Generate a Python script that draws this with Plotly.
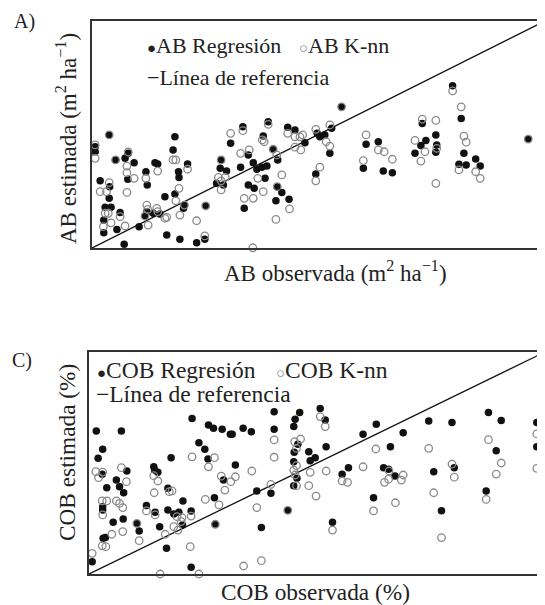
import plotly.graph_objects as go

# ---------------- Data (arbitrary 0-100 units, no tick labels in source) -------------
# Panel A: basal area (AB)
ab_reg_obs = [3.8,18.3,30.6,0.7,0.7,17.9,8.0,7.3,5.2,9.3,13.9,14.5,21.1,11.9,12.2,19.1,19.2,7.9,1.8,3.9,
              3.8,18.3,16.1,20.4,20.2,25.1,2.9,4.2,12.1,11.7,13.5,15.0,6.2,2.6,10.4,2.6,5.5,16.5,19.4,24.9,
              23.1,7.1,28.5,28.3,29.7,27.5,29.0,
              33.3,38.9,37.8,43.2,44.8,47.0,49.7,50.3,51.4,52.9,55.1,52.5,34.5,40.0,41.0,35.6,32.8,36.4,37.5,
              38.6,38.2,49.4,34.5,35.8,40.9,41.9,40.6,43.5,33.6,60.5,59.9,63.2,
              79.6,81.5,72.9,64.3,66.3,73.7,72.6,71.3,75.9,76.1,75.9,82.1,81.0,82.6,84.7,85.7,96.3]
ab_reg_est = [49.8,49.0,46.1,44.6,42.4,43.2,41.7,39.5,38.8,37.6,37.6,37.0,37.0,33.6,27.8,33.6,31.1,30.3,29.6,27.0,
              21.9,23.8,22.6,18.9,17.5,18.6,17.9,17.9,16.0,14.1,15.3,15.0,15.6,12.3,9.4,6.7,8.2,5.7,3.8,3.8,
              2.3,1.6,38.8,35.1,33.9,28.5,27.8,
              53.4,55.6,49.3,53.2,52.0,46.4,50.5,49.0,49.8,52.7,62.2,41.7,41.0,43.5,38.8,37.6,35.6,34.7,35.6,
              36.1,30.7,32.6,27.8,26.3,27.0,24.4,20.8,21.5,17.5,45.7,35.1,46.8,
              71.5,57.1,54.9,33.9,33.2,47.4,45.1,41.7,49.8,45.4,42.2,41.7,36.9,36.6,39.2,36.1,48.0]

ab_knn_obs = [3.8,30.6,0.7,0.7,8.0,5.2,17.9,18.5,21.1,7.7,7.7,14.5,11.9,9.3,3.8,1.8,3.2,7.7,19.2,18.5,
              20.4,25.1,12.1,12.3,11.7,14.3,14.5,2.9,3.6,6.2,19.4,16.1,16.5,4.2,12.4,7.3,23.1,2.5,24.9,28.5,
              27.9,28.5,29.4,28.5,
              33.3,38.9,37.6,38.0,43.2,44.8,46.5,45.9,49.4,51.7,52.5,55.1,52.5,44.8,46.1,34.7,32.8,40.8,36.6,
              41.9,50.3,49.4,37.8,40.9,33.6,35.6,43.6,40.6,35.5,38.6,60.5,59.9,63.2,40.0,
              79.6,81.5,72.9,75.9,64.5,66.3,71.3,73.5,72.6,76.1,75.9,82.1,82.6,81.0,84.7,85.7,96.3]
ab_knn_est = [49.8,50.5,45.4,39.5,42.3,38.8,38.8,38.8,34.7,36.1,33.2,33.9,30.7,30.7,28.8,24.8,24.8,24.5,26.3,20.8,
              18.9,18.6,18.9,17.0,14.1,17.5,16.0,15.3,15.3,13.8,14.5,13.1,13.5,11.1,10.1,9.7,12.0,9.4,5.3,38.8,
              31.1,29.6,31.1,25.6,
              51.7,54.5,47.6,46.8,50.5,49.0,49.8,49.0,52.3,46.8,54.2,62.2,44.9,44.4,43.2,43.2,41.7,41.0,30.7,
              32.2,35.6,29.6,24.8,27.0,21.9,21.9,17.2,12.6,0.1,-1.3,49.8,38.5,43.2,43.5,
              69.2,62.2,56.8,56.2,42.4,39.1,47.4,42.4,38.3,43.9,28.5,49.3,46.6,34.4,33.6,30.7,48.0]

# Panel C: cover (COB, %)
cob_reg_obs = [1.6,7.1,22.6,26.2,27.3,29.2,31.0,24.1,3.0,2.0,25.4,26.1,18.0,8.3,14.2,14.4,15.1,2.9,6.0,6.7,
               7.6,3.9,17.3,29.5,3.0,3.0,20.6,27.5,12.6,14.5,17.3,18.6,19.7,22.4,7.5,5.3,10.5,11.0,15.5,20.5,
               27.7,3.1,3.6,17.0,0.7,22.4,
               31.4,33.8,35.6,40.6,40.6,46.2,45.2,44.9,50.7,51.8,45.0,45.8,48.2,48.5,49.6,52.0,32.1,44.9,45.6,
               44.9,39.9,36.8,43.6,37.8,55.5,56.9,60.1,63.0,62.4,53.4,
               66.1,68.9,64.6,65.7,67.1,74.5,79.6,75.6,80.1,77.3,87.6,90.4,89.3,87.1,98.2,98.2]
cob_reg_est = [64.4,64.4,70.1,67.1,65.6,65.2,62.9,59.1,56.2,52.1,56.2,51.8,52.4,46.4,48.3,46.8,45.8,44.9,42.3,39.3,
               36.6,38.9,38.6,42.3,30.3,28.8,32.9,34.4,30.8,27.8,28.8,27.0,27.8,28.4,24.8,23.3,22.8,19.4,21.3,22.1,
               22.4,16.1,16.4,11.6,5.5,3.0,
               62.9,65.6,64.1,73.1,65.2,72.7,69.7,66.4,74.6,69.4,54.8,58.4,55.1,51.0,52.4,57.3,49.1,50.6,43.1,
               39.8,36.4,37.4,28.7,20.9,44.9,47.9,62.9,67.4,34.4,23.3,
               57.3,63.6,47.9,47.2,44.1,68.9,68.2,46.1,47.9,28.5,72.7,69.1,55.5,37.4,68.2,57.3]

cob_knn_obs = [27.5,22.6,7.1,14.2,15.1,26.2,1.5,2.1,3.0,8.2,14.3,17.6,18.2,29.0,29.8,2.9,3.9,3.0,6.0,6.7,
               7.4,25.5,28.5,12.6,14.5,19.3,20.4,22.4,10.5,11.0,7.4,5.0,18.6,19.5,16.7,20.2,27.7,2.9,3.7,22.2,
               0.7,15.6,24.1,
               40.6,40.6,50.7,51.8,46.4,45.1,45.5,32.1,31.1,35.7,45.5,44.9,45.2,45.5,48.5,52.0,48.2,49.8,39.9,
               43.6,36.8,55.5,56.7,60.1,62.9,62.4,53.4,37.8,33.9,
               65.8,68.9,68.5,64.8,65.7,67.2,74.5,75.6,79.6,80.1,77.3,87.6,90.4,89.3,87.1,98.2,98.2]
cob_knn_est = [52.4,52.8,47.9,44.3,41.9,48.3,46.1,43.4,45.9,41.6,36.6,37.1,37.4,44.1,37.8,32.9,32.9,26.6,32.9,31.8,
               29.9,33.6,31.1,28.4,26.6,25.8,25.4,26.1,22.8,15.0,19.1,17.9,21.3,19.8,17.9,23.6,22.4,12.7,12.3,12.3,
               9.3,0.0,0.0,
               60.4,52.6,70.9,66.4,60.8,59.6,56.6,43.8,41.6,46.4,48.8,46.8,44.6,39.8,45.8,46.4,39.8,35.1,40.4,
               28.7,29.9,41.9,41.3,48.3,56.3,28.4,19.8,6.0,3.6,
               46.4,44.6,42.3,41.3,42.7,32.1,56.6,36.6,49.5,43.6,16.4,60.5,50.0,45.0,33.6,63.1,47.6]

ref_line = [0, 100]

# ---------------- Figure ----------------
W, H = 545, 605
OFF = 8  # page body margin of the browser
FONT = "Liberation Serif"
def px(x): return (x - OFF) / W
def py(y): return 1 - (y - OFF) / H

fig = go.Figure()

def add_panel(xa, ya, reg_x, reg_y, knn_x, knn_y):
    fig.add_trace(go.Scatter(x=ref_line, y=ref_line, mode="lines",
                             line=dict(color="#111111", width=1.3),
                             xaxis=xa, yaxis=ya, showlegend=False, hoverinfo="skip"))
    fig.add_trace(go.Scatter(x=reg_x, y=reg_y, mode="markers", name="Regresión",
                             marker=dict(symbol="circle", size=7.5, color="#111111",
                                         line=dict(width=0)),
                             xaxis=xa, yaxis=ya, showlegend=False, cliponaxis=False))
    fig.add_trace(go.Scatter(x=knn_x, y=knn_y, mode="markers", name="K-nn",
                             marker=dict(symbol="circle-open", size=7.5, color="#8a8a8a",
                                         line=dict(width=1.3)),
                             xaxis=xa, yaxis=ya, showlegend=False, cliponaxis=False))

add_panel("x", "y", ab_reg_obs, ab_reg_est, ab_knn_obs, ab_knn_est)
add_panel("x2", "y2", cob_reg_obs, cob_reg_est, cob_knn_obs, cob_knn_est)

axis_common = dict(range=[0, 100], showgrid=False, zeroline=False, showticklabels=False,
                   ticks="", showline=True, linecolor="#333333", linewidth=1.6, fixedrange=True)

fig.update_layout(
    width=W, height=H,
    margin=dict(l=0, r=0, t=0, b=0),
    paper_bgcolor="white", plot_bgcolor="white",
    font=dict(family=FONT, color="#222222", size=22),
    xaxis=dict(domain=[px(92), px(545)], anchor="y", mirror=True, **axis_common),
    yaxis=dict(domain=[py(248), py(21)], anchor="x", mirror=False, **axis_common),
    xaxis2=dict(domain=[px(89), px(545)], anchor="y2", mirror=True, **axis_common),
    yaxis2=dict(domain=[py(574), py(352)], anchor="x2", mirror=False, **axis_common),
)

GRAY = "#8a8a8a"
def ann(text, x, y, xanchor="left", size=22, angle=0):
    fig.add_annotation(text=text, x=px(x), y=py(y), xref="paper", yref="paper",
                       xanchor=xanchor, yanchor="middle", showarrow=False,
                       textangle=angle, font=dict(family=FONT, size=size, color="#222222"))

dot = "<span style='font-size:15px'>●</span>"
odot = f"<span style='font-size:15px;color:{GRAY}'>○</span>"

# Panel labels
ann("A)", 12, 21, size=20)
ann("C)", 10, 360, size=20)

# Axis titles
ann("AB estimada (m<sup>2</sup> ha<sup>−1</sup>)", 66, 139, xanchor="center", size=23, angle=-90)
ann("AB observada (m<sup>2</sup> ha<sup>−1</sup>)", 335, 272, xanchor="center", size=23)
ann("COB estimada (%)", 67, 453, xanchor="center", size=23.3, angle=-90)
ann("COB observada (%)", 315, 592, xanchor="center", size=23.3)

# Legends (text with symbols)
ann(dot + "AB Regresión", 145, 46)
ann(odot + "AB K-nn", 297, 46)
ann("−Línea de referencia", 145, 77)

ann(dot + "COB Regresión", 95, 370, size=23.5)
ann(odot + "COB K-nn", 274, 370, size=23.5)
ann("−Línea de referencia", 94, 394, size=23.5)

fig.write_html("out.html")
